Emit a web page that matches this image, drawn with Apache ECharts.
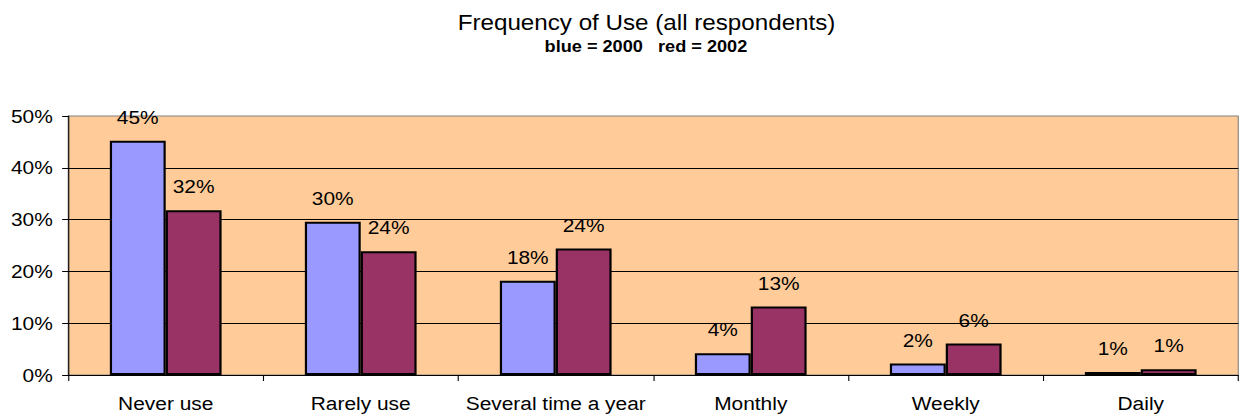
<!DOCTYPE html>
<html>
<head>
<meta charset="utf-8">
<script src="https://cdn.jsdelivr.net/npm/echarts@6/dist/echarts.min.js"></script>
<style>
  html, body { margin: 0; padding: 0; background: #ffffff; overflow: hidden; }
  /* the chart is laid out narrower and stretched horizontally to the page width */
  #chart { width: 1128px; height: 420px; transform-origin: 0 0; transform: scaleX(1.10018); }
</style>
</head>
<body>
<div id="chart"></div>
<script>
// Frequency of use, share of all respondents (%)
var categories = ['Never use', 'Rarely use', 'Several time a year', 'Monthly', 'Weekly', 'Daily'];
var values2000 = [45.2, 29.6, 18.2, 4.2, 2.2, 0.6];
var values2002 = [31.8, 23.9, 24.4, 13.2, 6.1, 1.1];
var yTicks = [0, 10, 20, 30, 40, 50];

var FONT = '"Liberation Sans", Arial, sans-serif';

var chart = echarts.init(document.getElementById('chart'), null, { renderer: 'svg' });

function barLabel() {
  return {
    show: true,
    position: 'top',
    distance: 14,
    color: '#000',
    fontFamily: FONT,
    fontSize: 19,
    formatter: function (p) { return Math.round(p.value) + '%'; }
  };
}

chart.setOption({
  animation: false,
  backgroundColor: '#ffffff',
  title: [
    {
      text: 'Frequency of Use (all respondents)',
      left: 411,
      top: 6,
      textStyle: { fontFamily: FONT, fontSize: 22, fontWeight: 'normal', color: '#000' }
    },
    {
      text: 'blue = 2000   red = 2002',
      left: 490,
      top: 33,
      textStyle: { fontFamily: FONT, fontSize: 16.5, fontWeight: 'bold', color: '#000' }
    }
  ],
  grid: {
    left: 62,
    right: 2.5,
    top: 116,
    bottom: 45,
    show: true,
    backgroundColor: '#FFCC99',
    borderColor: '#808080',
    borderWidth: 1
  },
  xAxis: {
    type: 'category',
    data: categories,
    boundaryGap: true,
    axisLine: { lineStyle: { color: '#000', width: 1 } },
    axisTick: { show: true, interval: 0, length: 6, lineStyle: { color: '#000' } },
    axisLabel: { color: '#000', fontFamily: FONT, fontSize: 19, margin: 19, interval: 0 }
  },
  yAxis: {
    type: 'value',
    min: yTicks[0],
    max: yTicks[yTicks.length - 1],
    interval: yTicks[1] - yTicks[0],
    axisLine: { show: true, lineStyle: { color: '#000', width: 1 } },
    axisTick: { show: true, length: 5.5, lineStyle: { color: '#000' } },
    axisLabel: { color: '#000', fontFamily: FONT, fontSize: 19, margin: 14, formatter: '{value}%' },
    splitLine: { show: true, showMaxLine: false, lineStyle: { color: '#000', width: 1 } }
  },
  series: [
    {
      name: '2000',
      type: 'bar',
      data: values2000,
      barGap: '0%',
      barCategoryGap: '42.7%',
      itemStyle: { color: '#9999FF', borderColor: '#000', borderWidth: 2 },
      label: barLabel()
    },
    {
      name: '2002',
      type: 'bar',
      data: values2002,
      itemStyle: { color: '#993366', borderColor: '#000', borderWidth: 2 },
      label: barLabel()
    }
  ]
});
</script>
</body>
</html>
